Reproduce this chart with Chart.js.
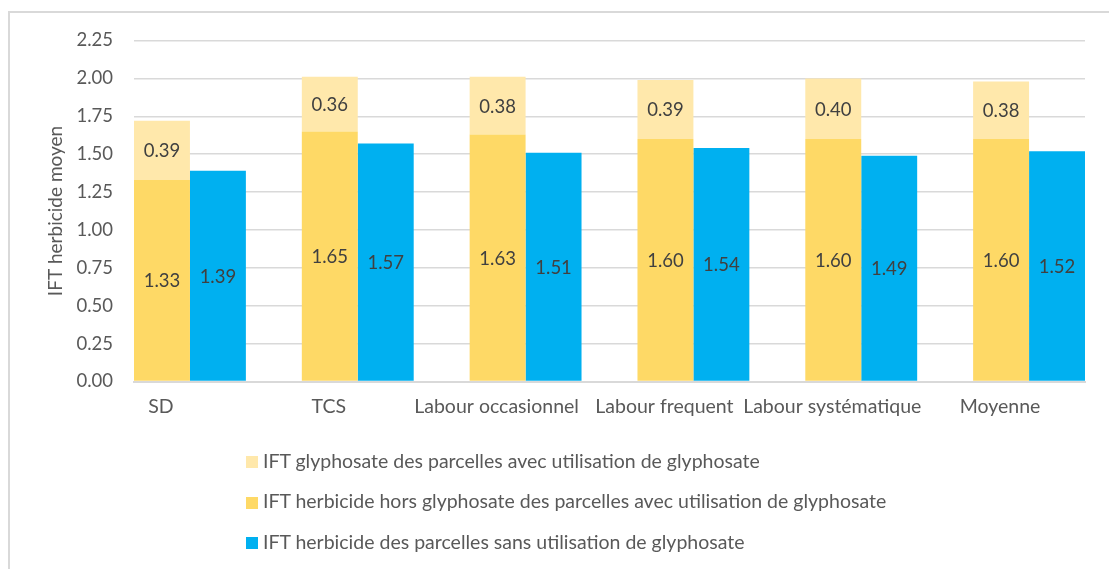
<!DOCTYPE html>
<html>
<head>
<meta charset="utf-8">
<script src="https://cdn.jsdelivr.net/npm/chart.js@4"></script>
<style>
  html, body { margin: 0; padding: 0; background: #fff; overflow: hidden; }
  #wrap { position: relative; width: 1109px; height: 569px; }
  #frame { position: absolute; left: 8px; top: 11px; width: 1200px; height: 700px;
    border-top: 2px solid #d9d9d9; border-left: 2px solid #d9d9d9; }
  #chart { position: absolute; left: 0; top: 0; }
  #legend { position: absolute; left: 246px; top: 440px; font: 19.5px Lato, sans-serif; color: #595959; }
  #legend div { height: 40.5px; display: flex; align-items: center; }
  #legend span.box { display: inline-block; width: 12px; height: 12px; margin-right: 5px; position: relative; top: 2px; }
</style>
</head>
<body>
<div id="wrap">
  <div id="frame"></div>
  <canvas id="chart" width="1109" height="569"></canvas>
  <div id="legend"></div>
</div>
<script>
const categories = ['SD', 'TCS', 'Labour occasionnel', 'Labour frequent', 'Labour systématique', 'Moyenne'];
const horsGlyphosate = [1.33, 1.65, 1.63, 1.60, 1.60, 1.60];
const glyphosate = [0.39, 0.36, 0.38, 0.39, 0.40, 0.38];
const sansGlyphosate = [1.39, 1.57, 1.51, 1.54, 1.49, 1.52];

const LIGHT = '#ffe8ab';
const GOLD = '#fed966';
const BLUE = '#00b0f0';
const FONT = 'Lato';

function points(values) {
  return values.map((v, i) => ({ x: i, y: v }));
}

// draws the value in the middle of each bar segment
const valueLabels = {
  id: 'valueLabels',
  afterDatasetsDraw(chart) {
    const ctx = chart.ctx;
    ctx.save();
    ctx.font = `18.5px ${FONT}`;
    ctx.fillStyle = '#404040';
    ctx.textAlign = 'center';
    ctx.textBaseline = 'middle';
    chart.data.datasets.forEach((ds, i) => {
      chart.getDatasetMeta(i).data.forEach((bar, j) => {
        const { x, y, base } = bar.getProps(['x', 'y', 'base'], true);
        ctx.fillText(ds.data[j].y.toFixed(2), x, (y + base) / 2 + 1);
      });
    });
    ctx.restore();
  },
};

const chart = new Chart(document.getElementById('chart'), {
  type: 'bar',
  data: {
    datasets: [
      { label: 'IFT herbicide hors glyphosate des parcelles avec utilisation de glyphosate', data: points(horsGlyphosate), backgroundColor: GOLD, stack: 'avec' },
      { label: 'IFT glyphosate des parcelles avec utilisation de glyphosate', data: points(glyphosate), backgroundColor: LIGHT, stack: 'avec' },
      { label: 'IFT herbicide des parcelles sans utilisation de glyphosate', data: points(sansGlyphosate), backgroundColor: BLUE, stack: 'sans' },
    ],
  },
  options: {
    responsive: false,
    animation: false,
    datasets: { bar: { categoryPercentage: 2 / 3, barPercentage: 1 } },
    layout: { padding: { left: 40, top: 40.5, right: 24, bottom: 127.5 } },
    scales: {
      x: {
        type: 'linear',
        stacked: true,
        offset: false,
        min: -1 / 3,
        max: categories.length - 1 + 1 / 3,
        // one tick per category, at the centre of its bar group
        afterBuildTicks: (axis) => {
          axis.ticks = categories.map((c, i) => ({ value: i }));
        },
        afterFit: (axis) => { axis.height = 60; },
        grid: { display: false, drawTicks: false },
        border: { display: true, color: '#d9d9d9', width: 2 },
        ticks: {
          autoSkip: false,
          maxRotation: 0,
          padding: 14,
          labelOffset: -29,
          color: '#595959',
          font: { family: FONT, size: 19.5 },
          callback: (v) => categories[v] ?? '',
        },
      },
      y: {
        stacked: true,
        min: 0,
        max: 2.25,
        afterFit: (axis) => { axis.width = 94; },
        grid: { color: '#d9d9d9', lineWidth: 1.5, drawTicks: false },
        border: { display: false },
        ticks: {
          stepSize: 0.25,
          padding: 21,
          color: '#595959',
          font: { family: FONT, size: 18.5 },
          callback: (v) => Number(v).toFixed(2),
        },
        title: {
          display: true,
          text: 'IFT herbicide moyen',
          color: '#595959',
          font: { family: FONT, size: 19, weight: 'normal' },
        },
      },
    },
    plugins: {
      legend: { display: false },
      tooltip: { enabled: false },
    },
  },
  plugins: [valueLabels],
});

// legend in the original order: glyphosate, hors glyphosate, sans glyphosate
const legend = document.getElementById('legend');
for (const i of [1, 0, 2]) {
  const ds = chart.data.datasets[i];
  const row = document.createElement('div');
  row.innerHTML = `<span class="box" style="background:${ds.backgroundColor}"></span>${ds.label}`;
  legend.appendChild(row);
}
</script>
</body>
</html>
